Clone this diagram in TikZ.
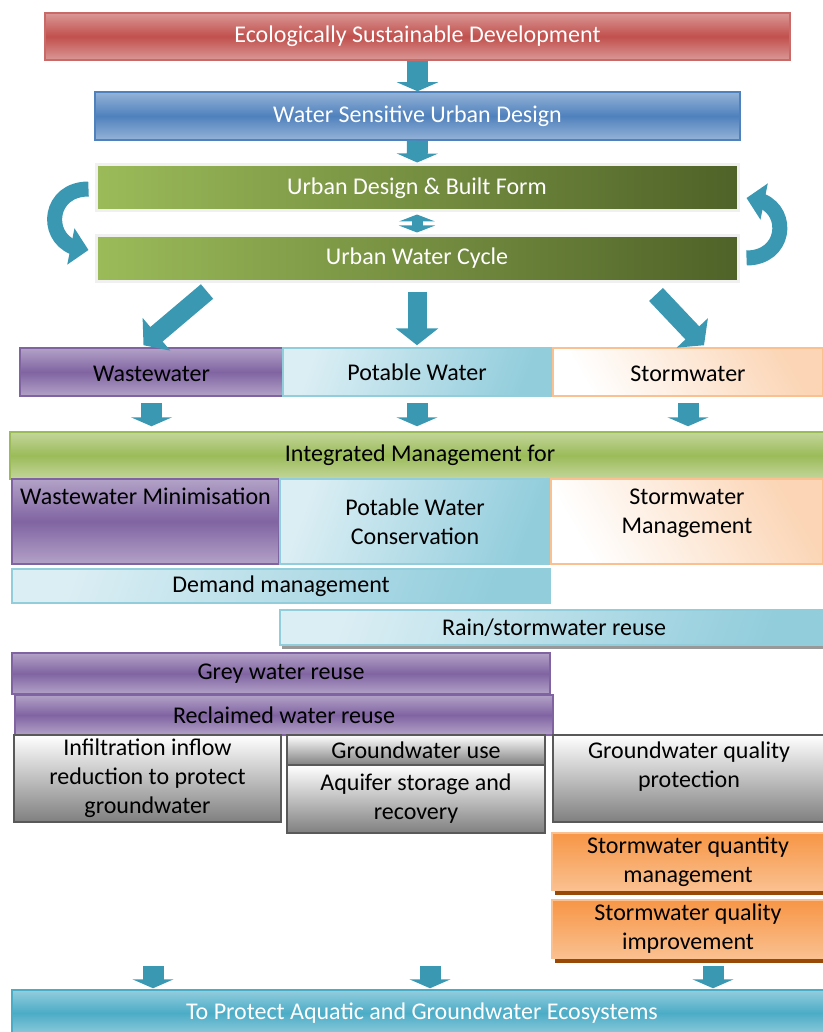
\documentclass[tikz,border=0pt]{standalone}
\usepackage{fontspec}
\setmainfont{Carlito}
\usetikzlibrary{arrows.meta,bending,shadows}
\definecolor{esdred}{HTML}{C0504D}
\definecolor{esdlight}{HTML}{DA9896}
\definecolor{wsudblue}{HTML}{4F81BD}
\definecolor{wsudlight}{HTML}{95B3D7}
\definecolor{leafgreen}{HTML}{9BBB59}
\definecolor{darkgreen}{HTML}{4F6228}
\definecolor{palegreen}{HTML}{C3D69B}
\definecolor{violet}{HTML}{8064A2}
\definecolor{lilac}{HTML}{B3A2C7}
\definecolor{icecyan}{HTML}{DBEEF4}
\definecolor{aqua}{HTML}{92CDDC}
\definecolor{teal}{HTML}{4BACC6}
\definecolor{arrowteal}{HTML}{3A98B2}
\definecolor{peach}{HTML}{FBD5B5}
\definecolor{apricot}{HTML}{FAC090}
\definecolor{tangerine}{HTML}{F79646}
\definecolor{rust}{HTML}{984807}
\definecolor{slate}{HTML}{595959}
\begin{document}
\begin{tikzpicture}[
x=1pt,y=-1pt,
font=\fontsize{24}{29}\selectfont,
every node/.style={align=center,inner sep=2pt},
redbox/.style={draw=esdred!85!white,line width=1.5pt,top color=esdlight,bottom color=esdlight,middle color=esdred,text=white},
bluebox/.style={draw=wsudblue,line width=1.5pt,top color=wsudlight,bottom color=wsudlight,middle color=wsudblue,text=white},
greenbox/.style={draw=black!6,line width=3pt,left color=leafgreen,right color=darkgreen,text=white},
limebox/.style={draw=leafgreen,line width=1.5pt,top color=palegreen,bottom color=palegreen,middle color=leafgreen},
purplebox/.style={draw=violet,line width=1.5pt,top color=lilac,bottom color=lilac,middle color=violet},
cyanbox/.style={draw=aqua,line width=1.5pt,left color=icecyan,right color=aqua,shading angle=70},
peachbox/.style={draw=apricot,line width=1.5pt,left color=white,right color=peach,shading angle=120},
greybox/.style={draw=slate,line width=2pt,top color=white,bottom color=black!50},
orangebox/.style={draw=apricot,line width=1.5pt,top color=tangerine,bottom color=apricot,
  drop shadow={shadow xshift=3pt,shadow yshift=-5pt,fill=rust,opacity=1}},
tealbox/.style={draw=teal,line width=1.5pt,top color=teal!60!white,bottom color=aqua,middle color=teal,text=white},
topbox/.style={inner ysep=3pt},
flowarrow/.style={draw=arrowteal,line width=21pt,-{Triangle[width=41pt,length=9pt]}},
bigarrow/.style={draw=arrowteal,line width=19pt,-{Triangle[width=42pt,length=17pt]}},
twowayarrow/.style={draw=arrowteal,line width=11pt,{Triangle[width=36pt,length=7pt]}-{Triangle[width=36pt,length=7pt]}},
curvearrow/.style={draw=arrowteal,line width=15pt,-{Triangle[width=36pt,length=18pt]}}
]
\useasboundingbox (0,0) rectangle (822,1032);
\node[redbox,minimum width=745pt,minimum height=47pt] (esd) at (417.5,36.5) {Ecologically Sustainable Development};
\node[bluebox,minimum width=645pt,minimum height=48pt] (wsud) at (417.5,116) {Water Sensitive Urban Design};
\node[greenbox,minimum width=642pt,minimum height=46pt] (udbf) at (417,188) {Urban Design \& Built Form};
\node[greenbox,minimum width=642pt,minimum height=46pt] (uwc) at (417,258) {Urban Water Cycle};

\node[purplebox,minimum width=263pt,minimum height=48pt,text height=25pt,text depth=6pt] (ww) at (151.5,372) {Wastewater};
\node[cyanbox,minimum width=268pt,minimum height=48pt] (pw) at (417,372) {Potable Water};
\node[peachbox,minimum width=270pt,minimum height=48pt,text height=25pt,text depth=6pt] (sw) at (688,372) {Stormwater};

\node[limebox,minimum width=820pt,minimum height=47pt] (im) at (420,455.5) {Integrated Management for};
\node[purplebox,topbox,text height=22pt,text depth=57pt,minimum width=267pt] (wwmin) at (145.5,521.5) {Wastewater Minimisation};
\node[cyanbox,minimum width=270pt,minimum height=85pt] (pwc) at (415,521.5) {Potable Water\\Conservation};
\node[peachbox,topbox,text height=51pt,text depth=28pt,minimum width=272pt] (swm) at (687,521.5) {Stormwater\\Management};

\node[cyanbox,minimum width=538pt,minimum height=34pt] (dm) at (281,586) {Demand management};
\node[cyanbox,minimum width=548pt,minimum height=35pt,
  drop shadow={shadow xshift=2pt,shadow yshift=-4pt,fill=black!40,opacity=1}] (rsr) at (554,627.5) {Rain/stormwater reuse};
\node[purplebox,minimum width=538pt,minimum height=41pt] (gwr) at (281,673.5) {Grey water reuse};
\node[purplebox,minimum width=538pt,minimum height=40pt] (rwr) at (284,715) {Reclaimed water reuse};

\node[greybox,minimum width=267pt,minimum height=87pt] (infl) at (147.5,778.5) {Infiltration inflow\\reduction to protect\\groundwater};
\node[greybox,minimum width=258pt,minimum height=30pt] (gwu) at (416,750) {Groundwater use};
\node[greybox,minimum width=258pt,minimum height=68pt] (asr) at (416,799) {Aquifer storage and\\recovery};
\node[greybox,topbox,text height=49pt,text depth=32pt,minimum width=272pt] (gwqp) at (689,778.5) {Groundwater quality\\protection};

\node[orangebox,minimum width=272pt,minimum height=57pt] (sqm) at (688,861.5) {Stormwater quantity\\management};
\node[orangebox,minimum width=272pt,minimum height=58pt] (sqi) at (688,929) {Stormwater quality\\improvement};

\node[tealbox,minimum width=820pt,minimum height=46pt] (protect) at (422,1013) {To Protect Aquatic and Groundwater Ecosystems};

\coordinate (b1) at (153,966);
\coordinate (b2) at (430,966);
\coordinate (b3) at (713,966);

\draw[flowarrow] (esd) -- (wsud);
\draw[flowarrow,shorten >=1pt] (wsud) -- (udbf);
\draw[twowayarrow,shorten <=2pt,shorten >=1pt] (udbf) -- (uwc);
\draw[curvearrow] ([shift={(-6,1)}]udbf.west) to[out=180,in=180,looseness=1.9] ([shift={(-6,-8)}]uwc.west);
\draw[curvearrow] ([shift={(7,0)}]uwc.east) to[out=0,in=0,looseness=1.9] ([shift={(7,10)}]udbf.east);
\draw[bigarrow] ([shift={(-210,9)}]uwc.south) -- ([shift={(-8,-2)}]ww.north);
\draw[bigarrow] ([shift={(0,9)}]uwc.south) -- ([shift={(0,-2)}]pw.north);
\draw[bigarrow] ([shift={(239,12)}]uwc.south) -- ([shift={(16,-2)}]sw.north);
\draw[flowarrow,shorten <=6pt,shorten >=5pt] (ww) -- (ww |- im.north);
\draw[flowarrow,shorten <=6pt,shorten >=5pt] (pw) -- (pw |- im.north);
\draw[flowarrow,shorten <=6pt,shorten >=5pt] (sw) -- (sw |- im.north);
\draw[flowarrow,shorten >=1pt] (b1) -- (b1 |- protect.north);
\draw[flowarrow,shorten >=1pt] (b2) -- (b2 |- protect.north);
\draw[flowarrow,shorten >=1pt] (b3) -- (b3 |- protect.north);
\end{tikzpicture}
\end{document}
